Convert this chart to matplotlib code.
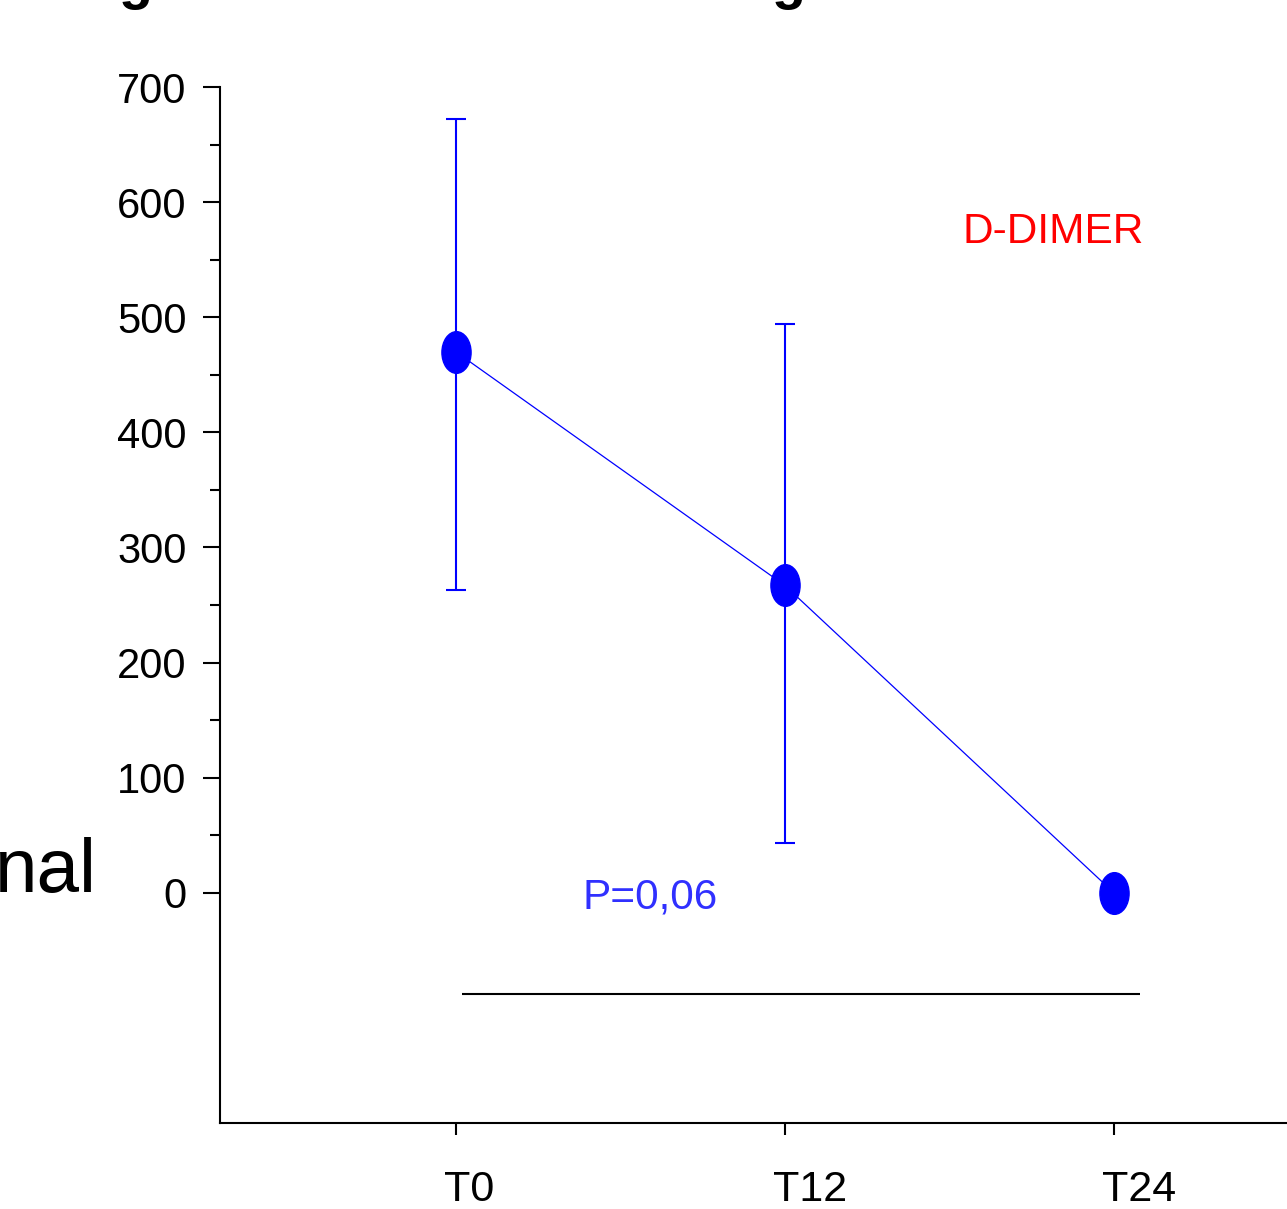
import numpy as np
import matplotlib.pyplot as plt
from matplotlib.path import Path
from matplotlib.transforms import Affine2D, ScaledTranslation

plt.rcParams['font.family'] = ['Liberation Sans', 'DejaVu Sans']

# dati (D-dimero nei tre tempi)
times = ['T0', 'T12', 'T24']
means = [470, 267, 0]
err_low = [207, 224, 0]
err_high = [202, 227, 0]

label_text = 'D-DIMER'
label_pos = (1.815, 574)
p_text = 'P=0,06'
p_pos = (0.59, -4)

# linea orizzontale sotto i punti
bracket_x = [0.02, 2.08]
bracket_y = -88

fig = plt.figure(figsize=(12.87, 12.09), dpi=100)
ax = fig.add_axes([0.1709, 0.0711, 0.9503, 0.8569])

x = np.arange(len(times))

# marker ellittico (piu' alto che largo)
ellipse = Path.unit_circle().transformed(Affine2D().scale(0.7, 1.0))

ax.errorbar(x[:2], means[:2], yerr=[err_low[:2], err_high[:2]], fmt='none',
            ecolor='#0000ff', elinewidth=1.5, capsize=7, capthick=1.5)
ax.plot(x, means, color='#0000ff', linewidth=0.9, marker=ellipse,
        markersize=30, markerfacecolor='#0000ff', markeredgecolor='#0000ff')

ax.hlines(bracket_y, bracket_x[0], bracket_x[1], color='black', linewidth=1.5)

ax.text(label_pos[0], label_pos[1], label_text, color='#ff0000', fontsize=30.5,
        ha='center', va='center')
ax.text(p_pos[0], p_pos[1], p_text, color='#3030ff', fontsize=30.5,
        ha='center', va='center')

ax.set_xlim(-0.717, 3.0)
ax.set_ylim(-200, 700)
ax.set_xticks(x)
ax.set_xticklabels(times)
ax.set_yticks(np.arange(0, 701, 100))
ax.set_yticks(np.arange(50, 651, 100), minor=True)
ax.tick_params(axis='y', which='major', length=12, width=1.5, labelsize=30, pad=12)
ax.tick_params(axis='y', which='minor', length=7, width=1.5)
ax.tick_params(axis='x', length=8.5, width=1.5, labelsize=31, pad=25)

# etichette x spostate: iniziano poco a sinistra del tick
shift = ScaledTranslation(-12 / 100, 0, fig.dpi_scale_trans)
for lab in ax.get_xticklabels():
    lab.set_horizontalalignment('left')
    lab.set_transform(lab.get_transform() + shift)

for s in ['top', 'right']:
    ax.spines[s].set_visible(False)
for s in ['left', 'bottom']:
    ax.spines[s].set_linewidth(1.5)
ax.spines['left'].set_bounds(-200, 700)

# pezzi di testo tagliati ai bordi
fig.text(-0.004, (1209 - 892) / 1209, 'nal', fontsize=55, va='baseline', ha='left')
for gx in [119 / 1287, 772 / 1287]:
    fig.text(gx, 1 + 2 / 1209, 'g', fontsize=40, fontweight='bold',
             va='baseline', ha='left')

fig.savefig('out.png', dpi=100)
